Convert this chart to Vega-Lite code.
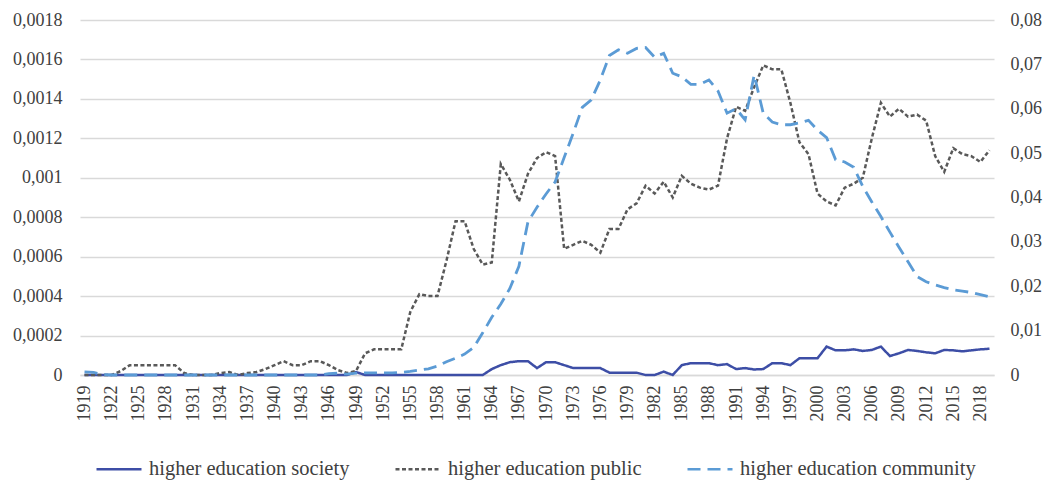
{
  "$schema": "https://vega.github.io/schema/vega-lite/v6.json",
  "width": 914,
  "height": 355,
  "autosize": {"type": "none"},
  "padding": {"left": 80, "top": 20, "right": 52, "bottom": 107},
  "background": "white",
  "config": {
    "view": {"stroke": null},
    "font": "Liberation Serif",
    "axis": {"labelFont": "Liberation Serif", "labelFontSize": 18, "labelColor": "#404040", "title": null, "ticks": false},
    "axisX": {"labelOverlap": false, "labelAngle": 270, "labelPadding": 10, "grid": false, "domainColor": "#d9d9d9", "domainWidth": 1.5, "labelFlush": false, "labelBound": false},
    "legend": {
      "orient": "none", "legendX": 15, "legendY": 425, "direction": "horizontal",
      "columnPadding": 40, "symbolSize": 2025, "symbolStrokeWidth": 2.5, "labelOffset": 6, "labelLimit": 0,
      "labelFont": "Liberation Serif", "labelFontSize": 20.5, "labelColor": "#404040", "padding": 0
    }
  },
  "data": {"values": [
    {"year":1919,"society":0,"public":0,"community":0.0007},
    {"year":1920,"society":0,"public":0,"community":0.0006},
    {"year":1921,"society":0,"public":0,"community":0.0001},
    {"year":1922,"society":0,"public":0,"community":0},
    {"year":1923,"society":0,"public":0.00002,"community":0},
    {"year":1924,"society":0,"public":0.00005,"community":0},
    {"year":1925,"society":0,"public":0.00005,"community":0},
    {"year":1926,"society":0,"public":0.00005,"community":0},
    {"year":1927,"society":0,"public":0.00005,"community":0},
    {"year":1928,"society":0,"public":0.00005,"community":0},
    {"year":1929,"society":0,"public":0.00005,"community":0},
    {"year":1930,"society":0,"public":0.00001,"community":0},
    {"year":1931,"society":0,"public":0,"community":0},
    {"year":1932,"society":0,"public":0,"community":0},
    {"year":1933,"society":0,"public":0,"community":0},
    {"year":1934,"society":0,"public":0.00001,"community":0},
    {"year":1935,"society":0,"public":0.000015,"community":0},
    {"year":1936,"society":0,"public":0,"community":0},
    {"year":1937,"society":0,"public":0.00001,"community":0},
    {"year":1938,"society":0,"public":0.000015,"community":0},
    {"year":1939,"society":0,"public":0.00003,"community":0},
    {"year":1940,"society":0,"public":0.00005,"community":0},
    {"year":1941,"society":0,"public":0.00007,"community":0},
    {"year":1942,"society":0,"public":0.00005,"community":0},
    {"year":1943,"society":0,"public":0.00005,"community":0},
    {"year":1944,"society":0,"public":0.00007,"community":0},
    {"year":1945,"society":0,"public":0.00007,"community":0},
    {"year":1946,"society":0,"public":0.00005,"community":0.0003},
    {"year":1947,"society":0,"public":0.000025,"community":0.0004},
    {"year":1948,"society":0,"public":0.00001,"community":0.0002},
    {"year":1949,"society":0.000015,"public":0.00002,"community":0.0004},
    {"year":1950,"society":0,"public":0.00011,"community":0.0005},
    {"year":1951,"society":0,"public":0.00013,"community":0.0005},
    {"year":1952,"society":0,"public":0.00013,"community":0.0005},
    {"year":1953,"society":0,"public":0.00013,"community":0.0005},
    {"year":1954,"society":0,"public":0.00013,"community":0.0006},
    {"year":1955,"society":0,"public":0.00032,"community":0.0008},
    {"year":1956,"society":0,"public":0.00041,"community":0.0011},
    {"year":1957,"society":0,"public":0.0004,"community":0.0014},
    {"year":1958,"society":0,"public":0.0004,"community":0.002},
    {"year":1959,"society":0,"public":0.00058,"community":0.003},
    {"year":1960,"society":0,"public":0.00078,"community":0.0038},
    {"year":1961,"society":0,"public":0.00078,"community":0.0047},
    {"year":1962,"society":0,"public":0.00064,"community":0.0062},
    {"year":1963,"society":0,"public":0.00056,"community":0.0095},
    {"year":1964,"society":0.00003,"public":0.00057,"community":0.013},
    {"year":1965,"society":0.00005,"public":0.00107,"community":0.016},
    {"year":1966,"society":0.000065,"public":0.00099,"community":0.0195},
    {"year":1967,"society":0.00007,"public":0.00088,"community":0.0245},
    {"year":1968,"society":0.00007,"public":0.00102,"community":0.0345},
    {"year":1969,"society":0.000035,"public":0.0011,"community":0.0378},
    {"year":1970,"society":0.000065,"public":0.00113,"community":0.0408},
    {"year":1971,"society":0.000065,"public":0.00111,"community":0.0435},
    {"year":1972,"society":0.00005,"public":0.00064,"community":0.049},
    {"year":1973,"society":0.000035,"public":0.00066,"community":0.0545},
    {"year":1974,"society":0.000035,"public":0.00068,"community":0.0603},
    {"year":1975,"society":0.000035,"public":0.00066,"community":0.062},
    {"year":1976,"society":0.000035,"public":0.00062,"community":0.0665},
    {"year":1977,"society":0.000012,"public":0.00074,"community":0.072},
    {"year":1978,"society":0.000012,"public":0.00074,"community":0.0733},
    {"year":1979,"society":0.000012,"public":0.00084,"community":0.0725},
    {"year":1980,"society":0.000012,"public":0.00087,"community":0.0736},
    {"year":1981,"society":0,"public":0.00096,"community":0.0738},
    {"year":1982,"society":0,"public":0.00092,"community":0.0716},
    {"year":1983,"society":0.000017,"public":0.00098,"community":0.0725},
    {"year":1984,"society":0,"public":0.0009,"community":0.068},
    {"year":1985,"society":0.00005,"public":0.00101,"community":0.0672},
    {"year":1986,"society":0.00006,"public":0.00097,"community":0.0655},
    {"year":1987,"society":0.00006,"public":0.00095,"community":0.0655},
    {"year":1988,"society":0.00006,"public":0.00094,"community":0.0665},
    {"year":1989,"society":0.00005,"public":0.00096,"community":0.064},
    {"year":1990,"society":0.000055,"public":0.0012,"community":0.059},
    {"year":1991,"society":0.00003,"public":0.00136,"community":0.06},
    {"year":1992,"society":0.000035,"public":0.00134,"community":0.0575},
    {"year":1993,"society":0.000028,"public":0.00146,"community":0.0676},
    {"year":1994,"society":0.00003,"public":0.00157,"community":0.059},
    {"year":1995,"society":0.00006,"public":0.00155,"community":0.057},
    {"year":1996,"society":0.00006,"public":0.00155,"community":0.0564},
    {"year":1997,"society":0.00005,"public":0.00138,"community":0.0564},
    {"year":1998,"society":0.000085,"public":0.00118,"community":0.0568},
    {"year":1999,"society":0.000085,"public":0.00112,"community":0.0574},
    {"year":2000,"society":0.000085,"public":0.00092,"community":0.0552},
    {"year":2001,"society":0.000144,"public":0.00088,"community":0.0535},
    {"year":2002,"society":0.000125,"public":0.00086,"community":0.0485},
    {"year":2003,"society":0.000125,"public":0.00095,"community":0.048},
    {"year":2004,"society":0.00013,"public":0.00097,"community":0.0468},
    {"year":2005,"society":0.000122,"public":0.001,"community":0.0425},
    {"year":2006,"society":0.000127,"public":0.0012,"community":0.039},
    {"year":2007,"society":0.000144,"public":0.00138,"community":0.0357},
    {"year":2008,"society":0.000096,"public":0.00131,"community":0.0322},
    {"year":2009,"society":0.00011,"public":0.00135,"community":0.0288},
    {"year":2010,"society":0.000127,"public":0.00131,"community":0.0255},
    {"year":2011,"society":0.000122,"public":0.00132,"community":0.0222},
    {"year":2012,"society":0.000115,"public":0.00129,"community":0.021},
    {"year":2013,"society":0.00011,"public":0.00111,"community":0.0203},
    {"year":2014,"society":0.000127,"public":0.00103,"community":0.0197},
    {"year":2015,"society":0.000125,"public":0.00115,"community":0.0192},
    {"year":2016,"society":0.00012,"public":0.00112,"community":0.0189},
    {"year":2017,"society":0.000125,"public":0.00111,"community":0.0186},
    {"year":2018,"society":0.00013,"public":0.00108,"community":0.0181},
    {"year":2019,"society":0.000133,"public":0.00114,"community":0.0176}
  ]},
  "layer": [
    {
      "transform": [{"fold": ["society", "public"], "as": ["series", "value"]}],
      "mark": {"type": "line", "strokeWidth": 2.5},
      "encoding": {
        "x": {"field": "year", "type": "quantitative",
          "scale": {"domain": [1918.5, 2019.5], "nice": false, "zero": false},
          "axis": {"values": [1919,1922,1925,1928,1931,1934,1937,1940,1943,1946,1949,1952,1955,1958,1961,1964,1967,1970,1973,1976,1979,1982,1985,1988,1991,1994,1997,2000,2003,2006,2009,2012,2015,2018],
            "format": "d", "labelOverlap": false}},
        "y": {"field": "value", "type": "quantitative",
          "scale": {"domain": [0, 0.0018], "nice": false},
          "axis": {"orient": "left", "values": [0,0.0002,0.0004,0.0006,0.0008,0.001,0.0012,0.0014,0.0016,0.0018],
            "labelExpr": "replace(format(datum.value, '~g'), '.', ',')", "grid": true, "gridColor": "#d9d9d9", "gridWidth": 1.5, "domain": false, "labelPadding": 18}},
        "color": {"field": "series", "type": "nominal",
          "scale": {"domain": ["society", "public", "community"], "range": ["#3d4ea6", "#595959", "#5b9bd5"]},
          "legend": {"title": null, "labelExpr": "'higher education ' + datum.label"}},
        "strokeDash": {"field": "series", "type": "nominal",
          "scale": {"domain": ["society", "public", "community"], "range": [[1, 0], [4, 2.5], [13, 7]]},
          "legend": {"title": null, "labelExpr": "'higher education ' + datum.label"}}
      }
    },
    {
      "transform": [{"fold": ["community"], "as": ["series", "value"]}],
      "mark": {"type": "line", "strokeWidth": 2.8},
      "encoding": {
        "x": {"field": "year", "type": "quantitative",
          "axis": {"values": [1919,1922,1925,1928,1931,1934,1937,1940,1943,1946,1949,1952,1955,1958,1961,1964,1967,1970,1973,1976,1979,1982,1985,1988,1991,1994,1997,2000,2003,2006,2009,2012,2015,2018],
            "format": "d", "labelOverlap": false}},
        "y": {"field": "value", "type": "quantitative",
          "scale": {"domain": [0, 0.08], "nice": false},
          "axis": {"orient": "right", "values": [0,0.01,0.02,0.03,0.04,0.05,0.06,0.07,0.08],
            "labelExpr": "replace(format(datum.value, '~g'), '.', ',')", "grid": false, "domain": false, "labelPadding": 16}},
        "color": {"field": "series", "type": "nominal"},
        "strokeDash": {"field": "series", "type": "nominal"}
      }
    }
  ],
  "resolve": {"scale": {"y": "independent"}}
}
